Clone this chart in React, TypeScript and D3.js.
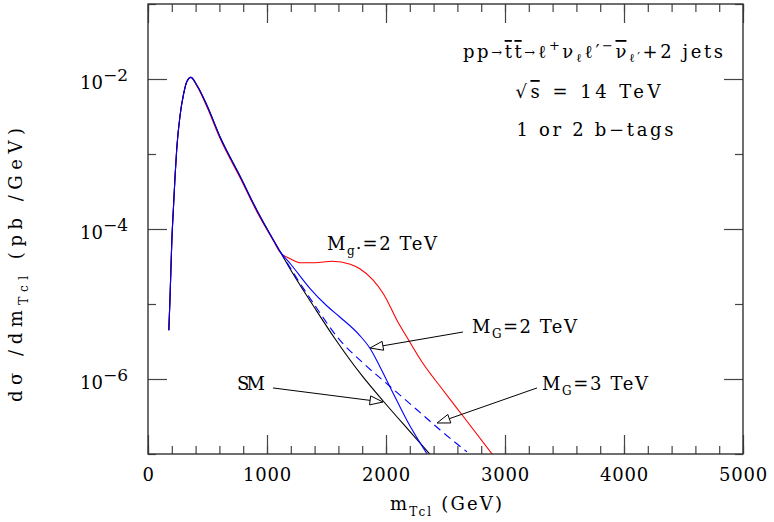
import * as React from 'react';
import * as d3 from 'd3';

// m_Tcl in GeV, dsigma/dm in pb/GeV
const lowMass = [175, 185, 200, 215, 228, 242, 270, 298, 325, 360, 410, 495, 605, 775, 915, 1055, 1110];
const lowSigma = [4.47e-6, 1.2e-5, 6.76e-5, 2.09e-4, 5.25e-4, 1.2e-3, 3.31e-3, 6.17e-3, 9.12e-3, 1.05e-2,
  8.32e-3, 4.47e-3, 1.7e-3, 5.01e-4, 1.78e-4, 7.08e-5, 5.01e-5];

const smMass = [1220, 1400, 1570, 1800, 1980, 2200, 2380];
const smSigma = [2.51e-5, 8.91e-6, 3.47e-6, 1.1e-6, 5.01e-7, 2.0e-7, 9.5e-8];

const g2Mass = [1200, 1360, 1500, 1610, 1780, 1865, 1950, 2060, 2175, 2360];
const g2Sigma = [3.39e-5, 1.62e-5, 9.55e-6, 6.76e-6, 3.8e-6, 2.57e-6, 1.45e-6, 6.46e-7, 2.82e-7, 9.2e-8];

const g3Mass = [1220, 1420, 1590, 1810, 2035, 2260, 2455, 2680];
const g3Sigma = [2.63e-5, 8.71e-6, 3.63e-6, 1.62e-6, 7.94e-7, 3.89e-7, 2.09e-7, 1.07e-7];

const kkMass = [175, 185, 200, 215, 228, 242, 270, 298, 325, 360, 410, 495, 605, 775, 915, 1055, 1110,
  1200, 1280, 1400, 1550, 1700, 1780, 1890, 1980, 2100, 2175, 2310, 2480, 2650, 2900];
const kkSigma = [4.47e-6, 1.2e-5, 6.76e-5, 2.09e-4, 5.25e-4, 1.2e-3, 3.31e-3, 6.17e-3, 9.12e-3, 1.05e-2,
  8.13e-3, 4.27e-3, 1.62e-3, 4.79e-4, 1.7e-4, 6.92e-5, 4.9e-5,
  3.98e-5, 3.55e-5, 3.55e-5, 3.72e-5, 3.39e-5, 2.95e-5, 2.09e-5, 1.35e-5, 5.75e-6, 3.63e-6, 1.62e-6,
  7.08e-7, 3.16e-7, 9.6e-8];

const xMajor = [0, 1000, 2000, 3000, 4000, 5000];
const yMajor = [1e-2, 1e-4, 1e-6];
const yMinor = [1e-7, 1e-5, 1e-3, 1e-1];
const yExponents = ['−2', '−4', '−6'];

const FONT = 'DejaVu Serif';

function zip(ms: number[], ss: number[]) {
  return ms.map((m, i) => [m, ss[i]] as [number, number]);
}

// parts: [text, baselineShift, fontSize, overline]
function richText(sel: any, parts: any[]) {
  let prev = 0;
  parts.forEach(([t, shift, size, over]) => {
    const ts = sel.append('tspan').attr('dy', shift - prev).text(t);
    if (size) ts.attr('font-size', size);
    if (over) ts.style('text-decoration', 'overline');
    prev = shift;
  });
}

export default function App() {
  const ref = React.useRef<SVGSVGElement>(null);

  React.useEffect(() => {
    const width = 774;
    const height = 522;
    const margin = {top: 4, right: 31, bottom: 68, left: 148};
    const svg = d3.select(ref.current);
    svg.selectAll('*').remove();

    const x = d3.scaleLinear().domain([0, 5000]).range([margin.left, width - margin.right]);
    const y = d3.scaleLog().domain([1e-7, 1e-1]).range([height - margin.bottom, margin.top]);
    const [x0, x1] = x.range();
    const [yb, yt] = y.range();

    svg.append('defs').append('clipPath').attr('id', 'plot')
      .append('rect').attr('x', x0).attr('y', yt).attr('width', x1 - x0).attr('height', yb - yt);

    const line = d3.line<[number, number]>()
      .x(d => x(d[0]))
      .y(d => y(d[1]))
      .curve(d3.curveMonotoneX);

    const curves = svg.append('g').attr('clip-path', 'url(#plot)').attr('fill', 'none').attr('stroke-width', 1.1);
    curves.append('path').attr('d', line(zip(kkMass, kkSigma))).attr('stroke', '#ff0000');
    curves.append('path').attr('d', line(zip(lowMass.concat(smMass), lowSigma.concat(smSigma)))).attr('stroke', '#000');
    curves.append('path').attr('d', line(zip(lowMass.slice(-1).concat(g3Mass), lowSigma.slice(-1).concat(g3Sigma))))
      .attr('stroke', '#0000ff').attr('stroke-dasharray', '8,5');
    curves.append('path').attr('d', line(zip(lowMass.concat(g2Mass), lowSigma.concat(g2Sigma)))).attr('stroke', '#0000ff');

    // axes: ticks drawn inward on all four sides
    const axes = svg.append('g').attr('font-family', FONT).attr('font-size', 18);
    const minorX = d3.range(0, 5001, 200);
    const addAxis = (axis: any, tr: string) => {
      const g = axes.append('g').attr('transform', tr).call(axis);
      g.select('.domain').remove();
      g.selectAll('line').attr('stroke', '#444').attr('stroke-width', 1.2);
      return g;
    };
    addAxis(d3.axisBottom(x).tickValues(minorX).tickSize(-8).tickFormat(() => ''), `translate(0,${yb})`);
    const xb = addAxis(d3.axisBottom(x).tickValues(xMajor).tickSize(-19).tickFormat(d3.format('d')), `translate(0,${yb})`);
    xb.selectAll('text').attr('y', 27).attr('dy', 0).attr('fill', '#000')
      .attr('font-family', FONT).attr('font-size', 18).attr('letter-spacing', 0.8);
    addAxis(d3.axisTop(x).tickValues(minorX).tickSize(-8).tickFormat(() => ''), `translate(0,${yt})`);
    addAxis(d3.axisTop(x).tickValues(xMajor).tickSize(-19).tickFormat(() => ''), `translate(0,${yt})`);

    addAxis(d3.axisLeft(y).tickValues(yMinor).tickSize(-8).tickFormat(() => ''), `translate(${x0},0)`);
    const yl = addAxis(d3.axisLeft(y).tickValues(yMajor).tickSize(-19).tickFormat(() => ''), `translate(${x0},0)`);
    addAxis(d3.axisRight(y).tickValues(yMinor).tickSize(-8).tickFormat(() => ''), `translate(${x1},0)`);
    addAxis(d3.axisRight(y).tickValues(yMajor).tickSize(-19).tickFormat(() => ''), `translate(${x1},0)`);

    yl.selectAll('.tick text').each(function (_d: any, i: number) {
      const t = d3.select(this).attr('x', -20).attr('y', 9).attr('dy', 0).attr('fill', '#000')
        .attr('font-family', FONT).attr('font-size', 18).attr('text-anchor', 'end');
      richText(t, [['10', 0], [yExponents[i], -8, 17]]);
    });

    svg.append('rect').attr('x', x0).attr('y', yt).attr('width', x1 - x0).attr('height', yb - yt)
      .attr('fill', 'none').attr('stroke', '#333').attr('stroke-width', 1.4);

    const txt = svg.append('g').attr('font-family', FONT).attr('font-size', 18).attr('fill', '#000');

    // axis titles
    const xt = txt.append('text').attr('x', 446).attr('y', 510).attr('text-anchor', 'middle').attr('textLength', 112);
    richText(xt, [['m', 0], ['Tcl', 6, 12], [' (GeV)', 0]]);
    const ytl = txt.append('text').attr('transform', 'translate(22,265) rotate(-90)')
      .attr('text-anchor', 'middle').attr('textLength', 274);
    richText(ytl, [['dσ /dm', 0], ['Tcl', 6, 12], ['  (pb /GeV)', 0]]);

    // process labels
    const l1 = txt.append('text').attr('x', 593).attr('y', 58).attr('text-anchor', 'middle').attr('textLength', 260);
    richText(l1, [['pp', 0], ['→', -1, 13], ['tt', 0, 18, true], ['→', -1, 13], ['ℓ', 0], ['+', -8, 13], ['ν', 0],
      ['ℓ', 4, 12], ['ℓ′', 0], ['−', -8, 13], ['ν', 0, 18, true], ['ℓ′', 4, 12], ['+2 jets', 0]]);
    const l2 = txt.append('text').attr('x', 588).attr('y', 98).attr('text-anchor', 'middle').attr('textLength', 145);
    richText(l2, [['√', 0], ['s', 0, 18, true], [' = 14 TeV', 0]]);
    txt.append('text').attr('x', 595).attr('y', 136).attr('text-anchor', 'middle').attr('textLength', 157)
      .text('1 or 2 b−tags');

    // curve annotations
    const a1 = txt.append('text').attr('x', 327).attr('y', 250).attr('textLength', 110);
    richText(a1, [['M', 0], ['g', 5, 12], ['•', 1, 8], ['=2 TeV', 0]]);
    const a2 = txt.append('text').attr('x', 472).attr('y', 333).attr('textLength', 105);
    richText(a2, [['M', 0], ['G', 5, 12], ['=2 TeV', 0]]);
    const a3 = txt.append('text').attr('x', 542).attr('y', 390).attr('textLength', 106);
    richText(a3, [['M', 0], ['G', 5, 12], ['=3 TeV', 0]]);
    txt.append('text').attr('x', 237).attr('y', 390).attr('textLength', 28).text('SM');

    // arrows: [from, to] in data units
    const arrows = [
      [[1050, 7.6e-7], [1975, 4.93e-7]],
      [[2647, 4.23e-6], [1866, 2.59e-6]],
      [[3269, 7.6e-7], [2429, 2.59e-7]],
    ];
    const ag = svg.append('g').attr('stroke', '#000').attr('stroke-width', 1);
    arrows.forEach(([from, to]) => {
      const fx = x(from[0]), fy = y(from[1]), tx = x(to[0]), ty = y(to[1]);
      const ang = Math.atan2(ty - fy, tx - fx);
      const len = 13, half = 4.5;
      const bx = tx - len * Math.cos(ang), by = ty - len * Math.sin(ang);
      const px = -Math.sin(ang) * half, py = Math.cos(ang) * half;
      ag.append('line').attr('x1', fx).attr('y1', fy).attr('x2', bx).attr('y2', by);
      ag.append('path').attr('d', `M${tx},${ty}L${bx + px},${by + py}L${bx - px},${by - py}Z`).attr('fill', '#fff');
    });
  }, []);

  return (
    <svg ref={ref} width={774} height={522} style={{position: 'absolute', left: 0, top: 0, background: '#fff'}}></svg>
  );
}
